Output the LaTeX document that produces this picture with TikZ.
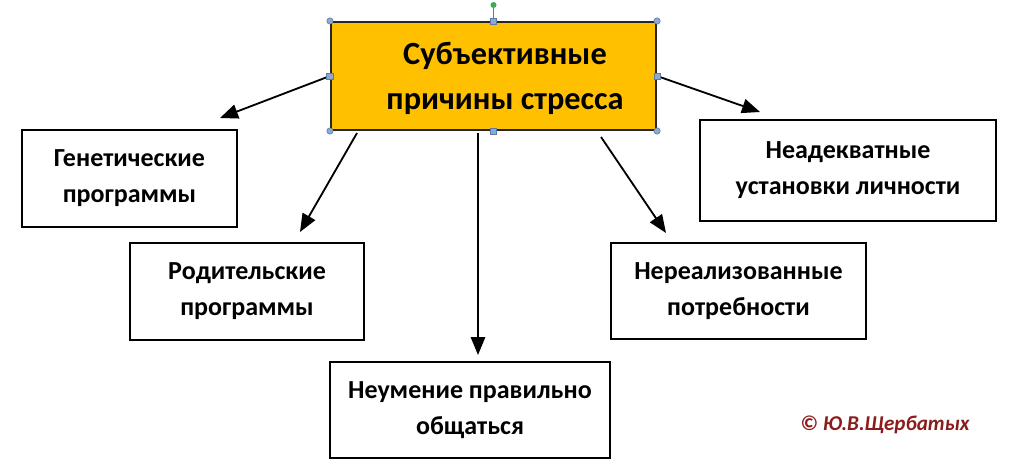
\documentclass[tikz,border=0pt]{standalone}
\usepackage{fontspec}
\setmainfont{Carlito}
\usetikzlibrary{arrows.meta,positioning}

\definecolor{topfill}{HTML}{FFC000}
\definecolor{handlefill}{HTML}{8FA8CC}
\definecolor{handledraw}{HTML}{5B7BA6}
\definecolor{rotgreen}{HTML}{3DAA5A}
\definecolor{signred}{HTML}{8B1C1C}

\begin{document}
\begin{tikzpicture}[x=0.025cm,y=-0.025cm,
  causebox/.style={draw,line width=1pt,inner sep=0pt,align=center,
    font=\bfseries\fontsize{18.5}{25.5}\selectfont},
  mainbox/.style={draw=black!85,line width=1.4pt,fill=topfill,inner sep=0pt,
    minimum width=8.125cm,minimum height=2.7cm},
  maintext/.style={align=center,font=\bfseries\fontsize{23}{32}\selectfont},
  link/.style={line width=1.3pt,-{Triangle[length=0.45cm,width=0.36cm]}},
  handlesq/.style={draw=handledraw,fill=handlefill,line width=0.4pt,
    inner sep=0pt,minimum size=0.16cm},
  handlecirc/.style={handlesq,circle}]
  \useasboundingbox (0,0) rectangle (1024,467);

  % centre box
  \node[mainbox] (top) at (493.5,76) {};
  \node[maintext] (toptext) at (505,78) {Субъективные\\причины стресса};

  % causes
  \node[causebox,minimum width=5.375cm,minimum height=2.425cm] (gen) at (129.5,178.5) {Генетические\\программы};
  \node[causebox,minimum width=5.85cm,minimum height=2.425cm] (rod) at (247,291.5) {Родительские\\программы};
  \node[causebox,minimum width=7.0cm,minimum height=2.4cm] (neum) at (470,410) {Неумение правильно\\общаться};
  \node[causebox,minimum width=6.375cm,minimum height=2.4cm] (nereal) at (738.5,291) {Нереализованные\\потребности};
  \node[causebox,minimum width=7.4cm,minimum height=2.525cm] (neadek) at (848,170.5) {Неадекватные\\установки личности};

  % arrow ends
  \coordinate (e1) at (220,118);
  \coordinate (e2) at (300,232);
  \coordinate (e3) at (478,355);
  \coordinate (e4) at (666,233);
  \coordinate (e5) at (760,112);
  \coordinate (s2) at (357,133);
  \coordinate (s3) at (478,133);
  \coordinate (s4) at (601,137);

  \draw[link] (top.west) -- (e1);
  \draw[link] (s2) -- (e2);
  \draw[link] (s3) -- (e3);
  \draw[link] (s4) -- (e4);
  \draw[link] (top.east) -- (e5);

  % selection handles
  \coordinate (rot) at (493.5,5);
  \draw[handledraw,line width=0.6pt] (top.north) -- (rot);
  \node[circle,fill=rotgreen,inner sep=0pt,minimum size=0.15cm] (rotdot) at (rot) {};
  \foreach \a in {north west,north east,south west,south east}
    \node[handlecirc] at (top.\a) {};
  \foreach \a in {north,south,west,east}
    \node[handlesq] at (top.\a) {};

  % signature
  \node[text=signred,font=\bfseries\itshape\fontsize{15}{18}\selectfont] (sign) at (885,425) {© Ю.В.Щербатых};
\end{tikzpicture}
\end{document}
